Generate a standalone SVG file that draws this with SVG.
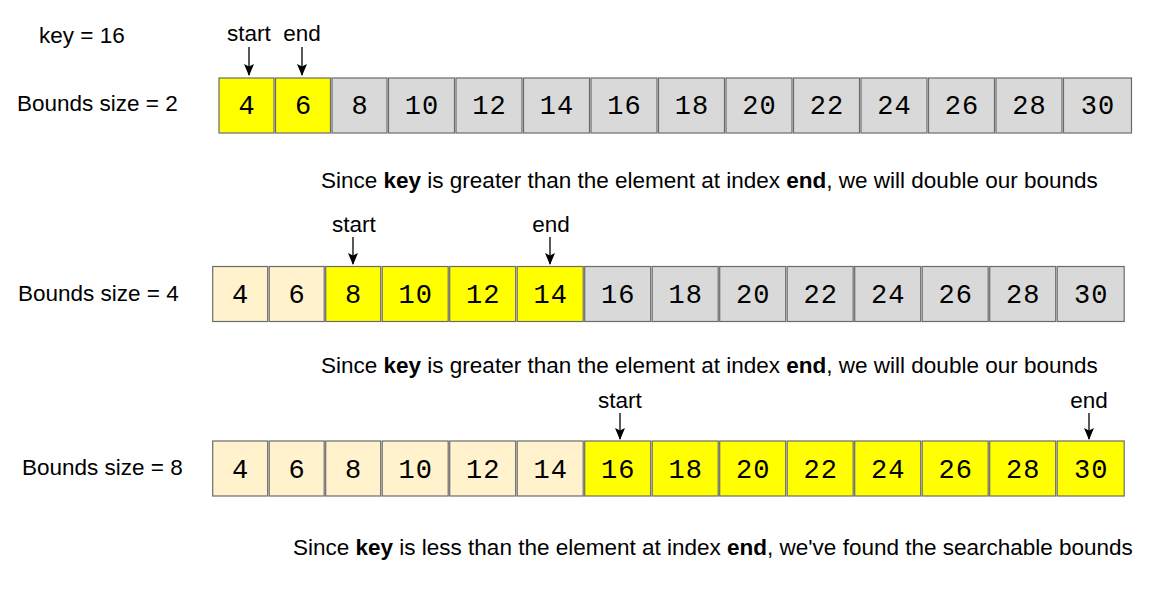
<svg xmlns="http://www.w3.org/2000/svg" width="1167" height="591" viewBox="0 0 1167 591">
<defs>
<style>
.c rect{stroke:#6b6b6b;stroke-width:1.2}
.g{fill:#d9d9d9}.y{fill:#ffff00}.l{fill:#fff2cc}
.d{font-family:"Liberation Mono",monospace;font-size:27px;fill:#000;text-anchor:middle;letter-spacing:1px}
.t{font-family:"Liberation Sans",Arial,sans-serif;font-size:22.5px;fill:#000}
.m{text-anchor:middle}
.b{font-weight:bold}
.a{stroke:#000;stroke-width:1.3;fill:none;marker-end:url(#ah)}
</style>
<marker id="ah" viewBox="0 0 12 10" refX="11" refY="5" markerWidth="12" markerHeight="10" markerUnits="userSpaceOnUse" orient="auto"><path d="M0,0 L12,5 L0,10 L2.5,5 z" fill="#000"/></marker>
</defs>
<rect width="1167" height="591" fill="#fff"/>
<g id="labels">
<text class="t" x="39" y="43">key = 16</text>
<text class="t" x="17" y="111">Bounds size = 2</text>
<text class="t" x="18" y="301">Bounds size = 4</text>
<text class="t" x="22" y="475">Bounds size = 8</text>
<text class="t" x="321" y="188">Since <tspan class="b">key</tspan> is greater than the element at index <tspan class="b">end</tspan>, we will double our bounds</text>
<text class="t" x="321" y="373">Since <tspan class="b">key</tspan> is greater than the element at index <tspan class="b">end</tspan>, we will double our bounds</text>
<text class="t" x="293" y="555">Since <tspan class="b">key</tspan> is less than the element at index <tspan class="b">end</tspan>, we've found the searchable bounds</text>
<text class="t m" x="249" y="41">start</text>
<text class="t m" x="302" y="41">end</text>
<text class="t m" x="354" y="232">start</text>
<text class="t m" x="551" y="232">end</text>
<text class="t m" x="620" y="408">start</text>
<text class="t m" x="1089" y="408">end</text>
</g>
<g id="row1" class="c">
<rect class="y" x="219" y="78" width="55" height="55"/><text class="d" x="247" y="114">4</text>
<rect class="y" x="275.5" y="78" width="55" height="55"/><text class="d" x="303.5" y="114">6</text>
<rect class="g" x="332" y="78" width="55" height="55"/><text class="d" x="360" y="114">8</text>
<rect class="g" x="388.5" y="78" width="66" height="55"/><text class="d" x="422" y="114">10</text>
<rect class="g" x="456" y="78" width="66" height="55"/><text class="d" x="489.5" y="114">12</text>
<rect class="g" x="523.5" y="78" width="66" height="55"/><text class="d" x="557" y="114">14</text>
<rect class="g" x="591" y="78" width="66" height="55"/><text class="d" x="624.5" y="114">16</text>
<rect class="g" x="658.5" y="78" width="66" height="55"/><text class="d" x="692" y="114">18</text>
<rect class="g" x="726" y="78" width="66" height="55"/><text class="d" x="759.5" y="114">20</text>
<rect class="g" x="793.5" y="78" width="66" height="55"/><text class="d" x="827" y="114">22</text>
<rect class="g" x="861" y="78" width="66" height="55"/><text class="d" x="894.5" y="114">24</text>
<rect class="g" x="928.5" y="78" width="66" height="55"/><text class="d" x="962" y="114">26</text>
<rect class="g" x="996" y="78" width="66" height="55"/><text class="d" x="1029.5" y="114">28</text>
<rect class="g" x="1063.5" y="78" width="68" height="55"/><text class="d" x="1098" y="114">30</text>
</g>
<g id="row2" class="c">
<rect class="l" x="212.7" y="266.5" width="55" height="55"/><text class="d" x="240.7" y="303">4</text>
<rect class="l" x="269.2" y="266.5" width="55" height="55"/><text class="d" x="297.2" y="303">6</text>
<rect class="y" x="325.7" y="266.5" width="55" height="55"/><text class="d" x="353.7" y="303">8</text>
<rect class="y" x="382.2" y="266.5" width="66" height="55"/><text class="d" x="415.7" y="303">10</text>
<rect class="y" x="449.7" y="266.5" width="66" height="55"/><text class="d" x="483.2" y="303">12</text>
<rect class="y" x="517.2" y="266.5" width="66" height="55"/><text class="d" x="550.7" y="303">14</text>
<rect class="g" x="584.7" y="266.5" width="66" height="55"/><text class="d" x="618.2" y="303">16</text>
<rect class="g" x="652.2" y="266.5" width="66" height="55"/><text class="d" x="685.7" y="303">18</text>
<rect class="g" x="719.7" y="266.5" width="66" height="55"/><text class="d" x="753.2" y="303">20</text>
<rect class="g" x="787.2" y="266.5" width="66" height="55"/><text class="d" x="820.7" y="303">22</text>
<rect class="g" x="854.7" y="266.5" width="66" height="55"/><text class="d" x="888.2" y="303">24</text>
<rect class="g" x="922.2" y="266.5" width="66" height="55"/><text class="d" x="955.7" y="303">26</text>
<rect class="g" x="989.7" y="266.5" width="66" height="55"/><text class="d" x="1023.2" y="303">28</text>
<rect class="g" x="1057.2" y="266.5" width="67" height="55"/><text class="d" x="1091.2" y="303">30</text>
</g>
<g id="row3" class="c">
<rect class="l" x="212.7" y="441" width="55" height="55"/><text class="d" x="240.7" y="477.5">4</text>
<rect class="l" x="269.2" y="441" width="55" height="55"/><text class="d" x="297.2" y="477.5">6</text>
<rect class="l" x="325.7" y="441" width="55" height="55"/><text class="d" x="353.7" y="477.5">8</text>
<rect class="l" x="382.2" y="441" width="66" height="55"/><text class="d" x="415.7" y="477.5">10</text>
<rect class="l" x="449.7" y="441" width="66" height="55"/><text class="d" x="483.2" y="477.5">12</text>
<rect class="l" x="517.2" y="441" width="66" height="55"/><text class="d" x="550.7" y="477.5">14</text>
<rect class="y" x="584.7" y="441" width="66" height="55"/><text class="d" x="618.2" y="477.5">16</text>
<rect class="y" x="652.2" y="441" width="66" height="55"/><text class="d" x="685.7" y="477.5">18</text>
<rect class="y" x="719.7" y="441" width="66" height="55"/><text class="d" x="753.2" y="477.5">20</text>
<rect class="y" x="787.2" y="441" width="66" height="55"/><text class="d" x="820.7" y="477.5">22</text>
<rect class="y" x="854.7" y="441" width="66" height="55"/><text class="d" x="888.2" y="477.5">24</text>
<rect class="y" x="922.2" y="441" width="66" height="55"/><text class="d" x="955.7" y="477.5">26</text>
<rect class="y" x="989.7" y="441" width="66" height="55"/><text class="d" x="1023.2" y="477.5">28</text>
<rect class="y" x="1057.2" y="441" width="67" height="55"/><text class="d" x="1091.2" y="477.5">30</text>
</g>
<g id="connectors">
<line class="a" x1="249" y1="47" x2="249" y2="75"/>
<line class="a" x1="302" y1="47" x2="302" y2="75"/>
<line class="a" x1="353" y1="237" x2="353" y2="264"/>
<line class="a" x1="550" y1="237" x2="550" y2="264"/>
<line class="a" x1="620" y1="413" x2="620" y2="439"/>
<line class="a" x1="1089" y1="413" x2="1089" y2="439"/>
</g>
</svg>
